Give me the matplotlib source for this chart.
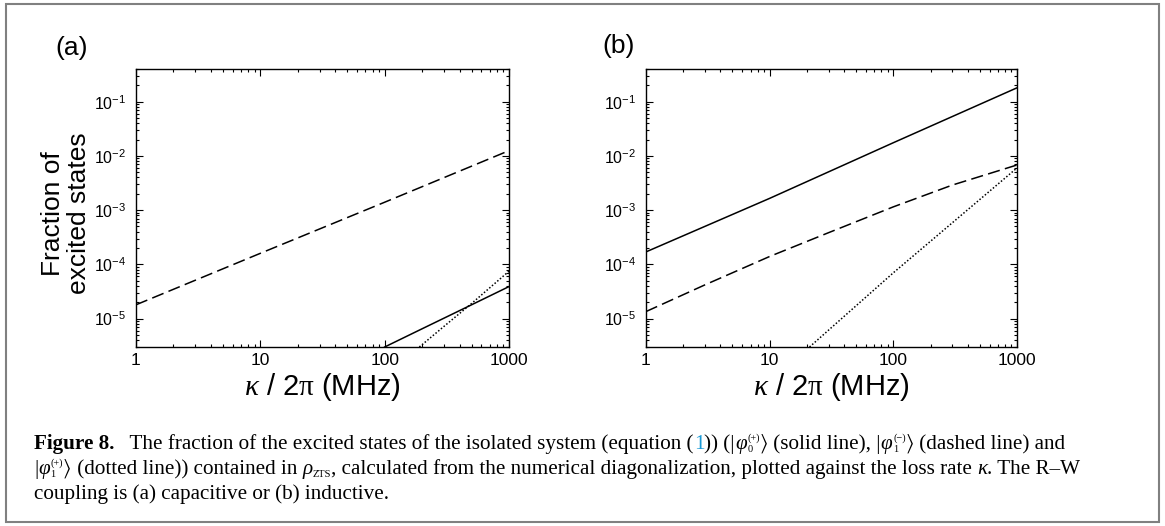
import math
import matplotlib
matplotlib.use("Agg")
import matplotlib.pyplot as plt
from matplotlib.ticker import LogLocator, NullFormatter, FuncFormatter
from matplotlib.patches import Rectangle
from matplotlib.transforms import IdentityTransform

plt.rcParams['font.family'] = ['Liberation Sans', 'DejaVu Sans']
plt.rcParams['mathtext.fontset'] = 'custom'
plt.rcParams['mathtext.rm'] = 'Liberation Serif'
plt.rcParams['mathtext.it'] = 'Liberation Serif:italic'
plt.rcParams['axes.unicode_minus'] = False

# panel (a): capacitive coupling
kappa_a_dash = [1, 10, 100, 1000]
frac_a_dash = [1.8e-5, 1.6e-4, 1.4e-3, 1.25e-2]
kappa_a_solid = [100, 200, 500, 1000]
frac_a_solid = [3.0e-6, 6.5e-6, 1.8e-5, 3.9e-5]
kappa_a_dot = [190, 300, 500, 1000]
frac_a_dot = [3.0e-6, 7.2e-6, 1.9e-5, 7.5e-5]

# panel (b): inductive coupling
kappa_b_solid = [1, 10, 100, 1000]
frac_b_solid = [1.7e-4, 1.65e-3, 1.75e-2, 0.18]
kappa_b_dash = [1, 3, 10, 30, 100, 300, 1000]
frac_b_dash = [1.35e-5, 4.2e-5, 1.4e-4, 3.85e-4, 1.15e-3, 2.9e-3, 6.8e-3]
kappa_b_dot = [21, 100, 1000]
frac_b_dot = [3.0e-6, 7.0e-5, 6.0e-3]

xticks = [1, 10, 100, 1000]

W, H = 1165, 526
fig = plt.figure(figsize=(W / 100, H / 100), dpi=100)

def px(l, t, r, b):
    return [l / W, 1 - b / H, (r - l) / W, (b - t) / H]

ax_a = fig.add_axes(px(136, 69, 509, 347))
ax_b = fig.add_axes(px(646, 69, 1017, 347))

lw = 1.1
ax_a.plot(kappa_a_solid, frac_a_solid, color='k', lw=lw)
ax_a.plot(kappa_a_dash, frac_a_dash, color='k', lw=lw, dashes=(8, 3.5))
ax_a.plot(kappa_a_dot, frac_a_dot, color='k', lw=lw, dashes=(1, 1.3))
ax_b.plot(kappa_b_solid, frac_b_solid, color='k', lw=lw)
ax_b.plot(kappa_b_dash, frac_b_dash, color='k', lw=lw, dashes=(8, 3.5))
ax_b.plot(kappa_b_dot, frac_b_dot, color='k', lw=lw, dashes=(1, 1.3))

def ylab(v, p):
    return r'$\mathdefault{10^{%d}}$' % round(math.log10(v))

for ax in (ax_a, ax_b):
    ax.set_xscale('log')
    ax.set_yscale('log')
    ax.set_xlim(1, 1000)
    ax.set_ylim(3e-6, 0.4)
    ax.set_xticks(xticks)
    ax.xaxis.set_major_formatter(FuncFormatter(lambda v, p: '%d' % v))
    ax.xaxis.set_minor_locator(LogLocator(subs=range(2, 10)))
    ax.xaxis.set_minor_formatter(NullFormatter())
    ax.yaxis.set_major_locator(LogLocator(numticks=10))
    ax.yaxis.set_major_formatter(FuncFormatter(ylab))
    ax.yaxis.set_minor_locator(LogLocator(subs=range(2, 10), numticks=10))
    ax.yaxis.set_minor_formatter(NullFormatter())
    ax.tick_params(which='both', direction='in', top=True, right=True,
                   labelsize=12.5, width=0.8)
    ax.tick_params(axis='y', labelsize=11.5)
    ax.tick_params(which='major', length=5)
    ax.tick_params(which='minor', length=2.5)
    ax.tick_params(axis='x', pad=4.5)
    ax.tick_params(axis='y', pad=7)
    for s in ax.spines.values():
        s.set_linewidth(1.0)
    ax.set_xlabel(r'$\mathit{\kappa}$ / 2$\mathrm{\pi}$ (MHz)', fontsize=21)
    ax.xaxis.set_label_coords(0.5, -0.085)
    ax.xaxis.label.set_va('top')

ax_a.set_ylabel('Fraction of\nexcited states', fontsize=19, linespacing=1.1)
ax_a.yaxis.set_label_coords(-0.12, 0.48)

fig.text(55 / W, 1 - 48 / H, '(a)', fontsize=19, va='center')
fig.text(602 / W, 1 - 46 / H, '(b)', fontsize=19, va='center')

# outer frame
fig.add_artist(Rectangle((6, 4), 1153, 518, transform=IdentityTransform(),
                         fill=False, ec='#808080', lw=1.5))

# caption, set piece by piece so sub/superscripts stay compact
renderer = fig.canvas.get_renderer()
SERIF = ['Liberation Serif', 'STIXGeneral', 'DejaVu Serif']
FS = 15.2
SS = 7.5

def draw(x, y, s, size=FS, **kw):
    t = fig.text(x, H - y, s, transform=IdentityTransform(), va='baseline',
                 fontfamily=SERIF, fontsize=size, **kw)
    return t.get_window_extent(renderer).x1

def put_line(pieces, x, y):
    for p in pieces:
        if isinstance(p, str):
            x = draw(x, y, p)
        elif p[0] == 'it':
            x = draw(x, y, p[1], style='italic')
        elif p[0] == 'bf':
            x = draw(x, y, p[1], fontweight='bold')
        elif p[0] == 'blue':
            x = draw(x, y, p[1], color='#1a9ad6')
        elif p[0] == 'sub':
            x = draw(x + 0.5, y + 3, p[1], size=SS)
        elif p[0] == 'stack':
            x1 = draw(x + 0.5, y - 8.7, p[1], size=SS)
            x2 = draw(x + 0.5, y + 3, p[2], size=SS)
            x = max(x1, x2)

put_line([('bf', 'Figure 8.'),
          '   The fraction of the excited states of the isolated system (equation (',
          ('blue', '1'), ')) (|', ('it', '\u03c6'), ('stack', '(+)', '0'), '\u27e9',
          ' (solid line), |', ('it', '\u03c6'), ('stack', '(\u2212)', '1'), '\u27e9',
          ' (dashed line) and'],
         34, 449)
put_line(['|', ('it', '\u03c6'), ('stack', '(+)', '1'), '\u27e9',
          ' (dotted line)) contained in ', ('it', '\u03c1'), ('sub', 'ZTS'),
          ', calculated from the numerical diagonalization, plotted against the loss rate ',
          ('it', '\u03ba'), '. The R\u2013W'],
         34, 474)
put_line(['coupling is (a) capacitive or (b) inductive.'], 34, 499)

fig.savefig('out.png', dpi=100)
